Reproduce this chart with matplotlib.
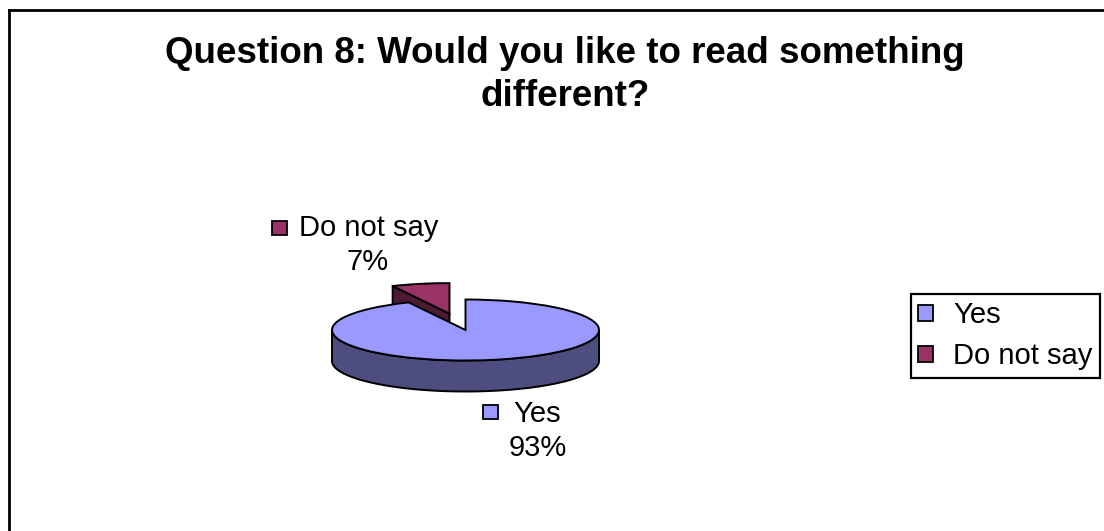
import matplotlib
matplotlib.use('Agg')
import matplotlib.pyplot as plt
import numpy as np
from matplotlib.patches import Polygon, Rectangle, Patch
from matplotlib.lines import Line2D

labels = ['Yes', 'Do not say']
shares = [93, 7]
explode = [0, 0.55]
top_colors = ['#9999FF', '#993366']
side_colors = ['#4D4D80', '#4D1A33']
title_lines = ['Question 8: Would you like to read something', 'different?']

W, H = 1104, 531
plt.rcParams['font.family'] = ['Liberation Sans', 'DejaVu Sans']


def px(x, y):
    # pixel position (from top-left) -> figure fraction
    return x / W, 1 - y / H


fig = plt.figure(figsize=(W / 100, H / 100), dpi=100)
fig.patch.set_facecolor('white')
ax = fig.add_axes([0, 0, 1, 1])

# pie centre / radii in pixels, depth of the 3d wall
cx, cy = 465.5, 330
rx, ry = 133.5, 30.5
depth = 31 / ry

wedges, _ = ax.pie(shares, colors=top_colors, startangle=90, counterclock=False,
                   explode=explode,
                   wedgeprops=dict(edgecolor='black', linewidth=1.4))
ax.set_aspect('auto')
ax.set_xlim(-cx / rx, (W - cx) / rx)
ax.set_ylim(-(H - cy) / ry, cy / ry)
ax.axis('off')


def pt(c, r, t):
    a = np.deg2rad(t)
    return c[0] + r * np.cos(a), c[1] + r * np.sin(a)


zbase = {0: 3, 1: 1}
for i, w in enumerate(wedges):
    c, r, t1, t2 = w.center, w.r, w.theta1, w.theta2
    z = zbase[i]
    # outer wall on the front half
    for k in range(-2, 3):
        lo, hi = max(t1, 360 * k - 180), min(t2, 360 * k)
        if hi > lo:
            t = np.linspace(lo, hi, 300)
            xs, ys = pt(c, r, t)
            verts = np.vstack([np.column_stack([xs, ys]),
                               np.column_stack([xs[::-1], ys[::-1] - depth])])
            ax.add_patch(Polygon(verts, closed=True, facecolor=side_colors[i],
                                 edgecolor='black', linewidth=1.4, zorder=z))
    # radial faces facing the viewer
    for t, vis in ((t1, np.cos(np.deg2rad(t1)) > 1e-6),
                   (t2, np.cos(np.deg2rad(t2)) < -1e-6)):
        if vis:
            ox, oy = pt(c, r, t)
            verts = [(c[0], c[1]), (ox, oy), (ox, oy - depth), (c[0], c[1] - depth)]
            ax.add_patch(Polygon(verts, closed=True, facecolor=side_colors[i],
                                 edgecolor='black', linewidth=1.4, zorder=z))
    w.set_zorder(z + 1)

# title
fs_t = 26.5
fig.text(*px(565, 63), title_lines[0], ha='center', va='baseline',
         fontsize=fs_t, fontweight='bold')
fig.text(*px(565, 106), title_lines[1], ha='center', va='baseline',
         fontsize=fs_t, fontweight='bold')

# data labels with keys
fs = 21
pcts = ['%d%%' % s for s in shares]
key_pos = {1: (272, 221), 0: (483, 405)}
name_pos = {1: (299, 236), 0: (513, 422)}
pct_pos = {1: (368, 270), 0: (538, 456)}
for i in range(len(labels)):
    kx, ky = key_pos[i]
    x0, y0 = px(kx, ky + 14)
    fig.add_artist(Rectangle((x0, y0), 15 / W, 14 / H, transform=fig.transFigure,
                             facecolor=top_colors[i], edgecolor='black', linewidth=1.3))
    fig.text(*px(*name_pos[i]), labels[i], ha='left', va='baseline', fontsize=fs)
    fig.text(*px(*pct_pos[i]), pcts[i], ha='center', va='baseline', fontsize=fs)

# legend
handles = [Patch(facecolor=c, edgecolor='black', linewidth=1.3) for c in top_colors]
leg = fig.legend(handles, labels, loc='upper left', bbox_to_anchor=px(911, 294),
                 frameon=True, fancybox=False, edgecolor='black', framealpha=1,
                 fontsize=fs, handlelength=0.5, handleheight=0.5, handletextpad=0.7,
                 borderpad=0.25, labelspacing=0.45, borderaxespad=0)
leg.get_frame().set_linewidth(1.6)

# outer chart border (left and top only visible)
fig.add_artist(Line2D([9 / W, 9 / W], [0, 1 - 10 / H], transform=fig.transFigure,
                      color='black', linewidth=2))
fig.add_artist(Line2D([9 / W, 1], [1 - 10 / H, 1 - 10 / H], transform=fig.transFigure,
                      color='black', linewidth=2))

fig.savefig('out.png', dpi=100, facecolor='white')
